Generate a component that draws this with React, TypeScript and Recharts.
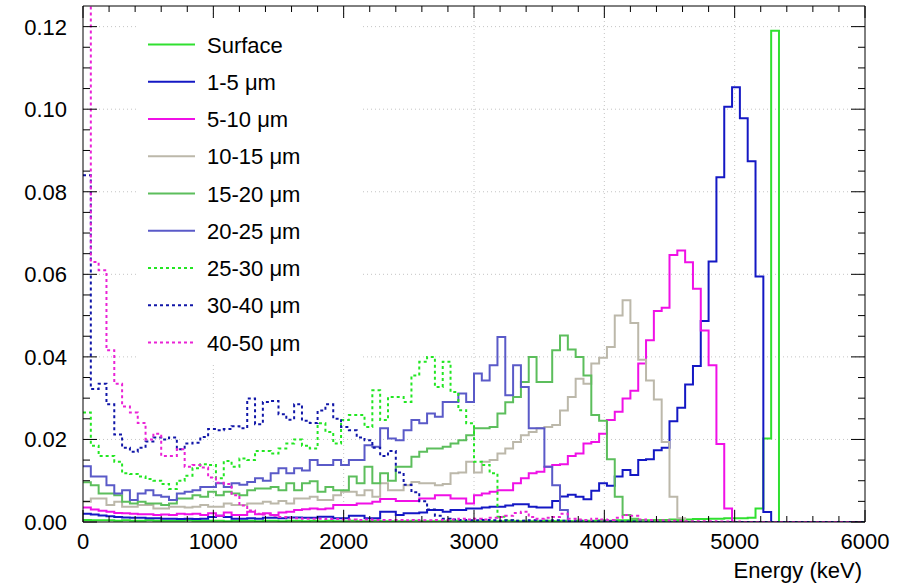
import React from 'react';
import { LineChart, Line, XAxis, YAxis, ReferenceLine, Legend, Label } from 'recharts';

const FONT = '"Liberation Sans", Arial, Helvetica, sans-serif';

// Histogram binning (keV)
const BIN_WIDTH = 60;
const N_BINS = 100;

// Axis ticks
const X_MAJOR = [0, 1000, 2000, 3000, 4000, 5000, 6000];
const Y_MAJOR = [0, 0.02, 0.04, 0.06, 0.08, 0.1, 0.12];
const X_MINOR_DIV = 5;
const Y_MINOR_DIV = 4;

// Series values per 60 keV bin (100 bins, 0-6000 keV)
const surface = [
  0.0005, 0.0004, 0.0004, 0.0004, 0.0003, 0.0004, 0.0003, 0.0003, 0.0004, 0.0003,
  0.0003, 0.0003, 0.0003, 0.0004, 0.0003, 0.0003, 0.0003, 0.0003, 0.0002, 0.0003,
  0.0003, 0.0003, 0.0002, 0.0003, 0.0003, 0.0002, 0.0003, 0.0003, 0.0002, 0.0003,
  0.0002, 0.0003, 0.0002, 0.0002, 0.0003, 0.0002, 0.0002, 0.0003, 0.0002, 0.0002,
  0.0002, 0.0002, 0.0003, 0.0002, 0.0002, 0.0002, 0.0002, 0.0003, 0.0002, 0.0002,
  0.0002, 0.0002, 0.0002, 0.0002, 0.0003, 0.0002, 0.0002, 0.0002, 0.0002, 0.0003,
  0.0002, 0.0003, 0.0002, 0.0003, 0.0003, 0.0003, 0.0004, 0.0003, 0.0004, 0.0004,
  0.0004, 0.0005, 0.0004, 0.0005, 0.0005, 0.0006, 0.0005, 0.0006, 0.0007, 0.0007,
  0.0008, 0.0008, 0.0009, 0.0009, 0.0009, 0.0010, 0.0033, 0.0202, 0.1190, 0,
  0, 0, 0, 0, 0, 0, 0, 0, 0, 0,
];
const um1to5 = [
  0.0020, 0.0018, 0.0016, 0.0014, 0.0012, 0.0011, 0.0010, 0.0010, 0.0009, 0.0009,
  0.0008, 0.0008, 0.0007, 0.0008, 0.0007, 0.0008, 0.0012, 0.0015, 0.0012, 0.0008,
  0.0008, 0.0009, 0.0008, 0.0010, 0.0010, 0.0009, 0.0011, 0.0011, 0.0010, 0.0010,
  0.0013, 0.0013, 0.0009, 0.0009, 0.0015, 0.0015, 0.0009, 0.0009, 0.0025, 0.0025,
  0.0017, 0.0021, 0.0021, 0.0023, 0.0029, 0.0029, 0.0025, 0.0029, 0.0029, 0.0033,
  0.0033, 0.0035, 0.0037, 0.0037, 0.0040, 0.0043, 0.0043, 0.0037, 0.0035, 0.0035,
  0.0051, 0.0062, 0.0066, 0.0061, 0.0055, 0.0076, 0.0094, 0.0088, 0.0110, 0.0126,
  0.0114, 0.0150, 0.0152, 0.0174, 0.0180, 0.0244, 0.0277, 0.0333, 0.0378, 0.0487,
  0.0631, 0.0835, 0.1006, 0.1053, 0.0978, 0.0874, 0.0595, 0.0024, 0, 0,
  0, 0, 0, 0, 0, 0, 0, 0, 0, 0,
];
const um5to10 = [
  0.0035, 0.0030, 0.0027, 0.0025, 0.0022, 0.0021, 0.0020, 0.0019, 0.0019, 0.0017,
  0.0018, 0.0017, 0.0020, 0.0019, 0.0020, 0.0017, 0.0021, 0.0015, 0.0023, 0.0017,
  0.0017, 0.0025, 0.0019, 0.0021, 0.0017, 0.0023, 0.0025, 0.0029, 0.0031, 0.0033,
  0.0031, 0.0033, 0.0041, 0.0041, 0.0041, 0.0045, 0.0045, 0.0049, 0.0056, 0.0056,
  0.0051, 0.0051, 0.0051, 0.0057, 0.0057, 0.0065, 0.0065, 0.0057, 0.0057, 0.0045,
  0.0065, 0.0069, 0.0073, 0.0077, 0.0077, 0.0094, 0.0106, 0.0118, 0.0122, 0.0134,
  0.0138, 0.0140, 0.0160, 0.0166, 0.0190, 0.0194, 0.0214, 0.0247, 0.0267, 0.0299,
  0.0318, 0.0384, 0.0440, 0.0511, 0.0519, 0.0647, 0.0658, 0.0629, 0.0565, 0.0464,
  0.0380, 0.0189, 0.0033, 0, 0, 0, 0, 0, 0, 0,
  0, 0, 0, 0, 0, 0, 0, 0, 0, 0,
];
const um10to15 = [
  0.0049, 0.0057, 0.0057, 0.0041, 0.0049, 0.0037, 0.0037, 0.0041, 0.0041, 0.0033,
  0.0033, 0.0037, 0.0037, 0.0035, 0.0037, 0.0041, 0.0037, 0.0037, 0.0045, 0.0041,
  0.0041, 0.0045, 0.0045, 0.0049, 0.0045, 0.0051, 0.0045, 0.0057, 0.0057, 0.0061,
  0.0053, 0.0053, 0.0065, 0.0073, 0.0073, 0.0065, 0.0077, 0.0061, 0.0094, 0.0077,
  0.0077, 0.0089, 0.0097, 0.0094, 0.0094, 0.0089, 0.0092, 0.0118, 0.0120, 0.0146,
  0.0120, 0.0146, 0.0150, 0.0166, 0.0178, 0.0194, 0.0210, 0.0218, 0.0227, 0.0230,
  0.0235, 0.0270, 0.0303, 0.0347, 0.0335, 0.0384, 0.0398, 0.0424, 0.0500, 0.0537,
  0.0482, 0.0393, 0.0343, 0.0297, 0.0194, 0.0061, 0.0009, 0, 0, 0,
  0, 0, 0, 0, 0, 0, 0, 0, 0, 0,
  0, 0, 0, 0, 0, 0, 0, 0, 0, 0,
];
const um15to20 = [
  0.0096, 0.0089, 0.0069, 0.0069, 0.0065, 0.0049, 0.0045, 0.0049, 0.0045, 0.0045,
  0.0041, 0.0045, 0.0057, 0.0057, 0.0065, 0.0061, 0.0073, 0.0065, 0.0073, 0.0069,
  0.0065, 0.0077, 0.0081, 0.0081, 0.0085, 0.0077, 0.0094, 0.0077, 0.0094, 0.0099,
  0.0073, 0.0085, 0.0077, 0.0077, 0.0110, 0.0094, 0.0134, 0.0094, 0.0118, 0.0100,
  0.0134, 0.0134, 0.0158, 0.0170, 0.0178, 0.0178, 0.0182, 0.0190, 0.0198, 0.0210,
  0.0227, 0.0227, 0.0230, 0.0263, 0.0290, 0.0303, 0.0339, 0.0400, 0.0339, 0.0339,
  0.0416, 0.0452, 0.0418, 0.0400, 0.0355, 0.0259, 0.0245, 0.0152, 0.0061, 0.0017,
  0.0008, 0.0004, 0, 0, 0, 0, 0, 0, 0, 0,
  0, 0, 0, 0, 0, 0, 0, 0, 0, 0,
  0, 0, 0, 0, 0, 0, 0, 0, 0, 0,
];
const um20to25 = [
  0.0135, 0.0110, 0.0110, 0.0089, 0.0069, 0.0077, 0.0053, 0.0069, 0.0077, 0.0065,
  0.0061, 0.0053, 0.0069, 0.0073, 0.0077, 0.0085, 0.0085, 0.0094, 0.0085, 0.0094,
  0.0090, 0.0097, 0.0106, 0.0100, 0.0118, 0.0130, 0.0118, 0.0130, 0.0125, 0.0150,
  0.0138, 0.0138, 0.0150, 0.0138, 0.0150, 0.0150, 0.0186, 0.0182, 0.0227, 0.0202,
  0.0198, 0.0222, 0.0247, 0.0239, 0.0263, 0.0255, 0.0291, 0.0291, 0.0311, 0.0291,
  0.0360, 0.0343, 0.0380, 0.0448, 0.0307, 0.0380, 0.0327, 0.0227, 0.0227, 0.0134,
  0.0089, 0.0029, 0, 0, 0, 0, 0, 0, 0, 0,
  0, 0, 0, 0, 0, 0, 0, 0, 0, 0,
  0, 0, 0, 0, 0, 0, 0, 0, 0, 0,
  0, 0, 0, 0, 0, 0, 0, 0, 0, 0,
];
const um25to30 = [
  0.0265, 0.0185, 0.0160, 0.0160, 0.0146, 0.0118, 0.0116, 0.0110, 0.0104, 0.0100,
  0.0092, 0.0080, 0.0100, 0.0112, 0.0130, 0.0140, 0.0138, 0.0106, 0.0148, 0.0134,
  0.0154, 0.0150, 0.0172, 0.0172, 0.0166, 0.0178, 0.0190, 0.0200, 0.0185, 0.0178,
  0.0239, 0.0218, 0.0190, 0.0247, 0.0259, 0.0259, 0.0230, 0.0319, 0.0247, 0.0303,
  0.0303, 0.0291, 0.0355, 0.0388, 0.0400, 0.0327, 0.0388, 0.0315, 0.0271, 0.0239,
  0.0146, 0.0138, 0.0118, 0.0013, 0.0004, 0.0003, 0.0003, 0.0002, 0.0002, 0.0002,
  0.0002, 0.0002, 0.0001, 0.0001, 0.0001, 0, 0, 0, 0, 0,
  0, 0, 0, 0, 0, 0, 0, 0, 0, 0,
  0, 0, 0, 0, 0, 0, 0, 0, 0, 0,
  0, 0, 0, 0, 0, 0, 0, 0, 0, 0,
];
const um30to40 = [
  0.0840, 0.0322, 0.0335, 0.0285, 0.0212, 0.0180, 0.0170, 0.0180, 0.0195, 0.0205,
  0.0200, 0.0205, 0.0176, 0.0190, 0.0192, 0.0206, 0.0225, 0.0222, 0.0225, 0.0232,
  0.0227, 0.0299, 0.0237, 0.0291, 0.0293, 0.0261, 0.0248, 0.0285, 0.0245, 0.0240,
  0.0270, 0.0285, 0.0250, 0.0230, 0.0222, 0.0205, 0.0198, 0.0180, 0.0160, 0.0172,
  0.0120, 0.0090, 0.0072, 0.0050, 0.0030, 0.0015, 0.0008, 0.0006, 0.0005, 0.0004,
  0.0004, 0.0005, 0.0004, 0.0003, 0.0004, 0.0003, 0.0003, 0.0004, 0.0003, 0.0003,
  0.0004, 0.0003, 0.0002, 0.0003, 0.0002, 0.0002, 0.0002, 0.0002, 0.0001, 0.0001,
  0.0001, 0.0001, 0.0001, 0, 0, 0, 0, 0, 0, 0,
  0, 0, 0, 0, 0, 0, 0, 0, 0, 0,
  0, 0, 0, 0, 0, 0, 0, 0, 0, 0,
];
const um40to50 = [
  0.2000, 0.0630, 0.0610, 0.0416, 0.0335, 0.0280, 0.0265, 0.0240, 0.0200, 0.0214,
  0.0160, 0.0160, 0.0176, 0.0134, 0.0138, 0.0132, 0.0108, 0.0095, 0.0092, 0.0065,
  0.0040, 0.0028, 0.0020, 0.0018, 0.0015, 0.0012, 0.0010, 0.0009, 0.0008, 0.0008,
  0.0008, 0.0007, 0.0007, 0.0006, 0.0006, 0.0005, 0.0006, 0.0005, 0.0005, 0.0005,
  0.0005, 0.0004, 0.0005, 0.0004, 0.0004, 0.0005, 0.0004, 0.0006, 0.0008, 0.0006,
  0.0008, 0.0006, 0.0010, 0.0012, 0.0015, 0.0022, 0.0025, 0.0012, 0.0008, 0.0010,
  0.0012, 0.0020, 0.0008, 0.0006, 0.0005, 0.0008, 0.0006, 0.0005, 0.0010, 0.0017,
  0.0015, 0.0006, 0.0005, 0.0004, 0.0004, 0.0003, 0.0003, 0.0002, 0.0002, 0.0002,
  0.0002, 0.0001, 0.0001, 0.0001, 0, 0, 0, 0, 0, 0,
  0, 0, 0, 0, 0, 0, 0, 0, 0, 0,
];

const SERIES = [
  { key: 'surface', name: 'Surface', values: surface, color: '#30e030', dash: undefined as string | undefined },
  { key: 'um1to5', name: '1-5 μm', values: um1to5, color: '#1418c4', dash: undefined },
  { key: 'um5to10', name: '5-10 μm', values: um5to10, color: '#f010e6', dash: undefined },
  { key: 'um10to15', name: '10-15 μm', values: um10to15, color: '#bcb8aa', dash: undefined },
  { key: 'um15to20', name: '15-20 μm', values: um15to20, color: '#5cbe5c', dash: undefined },
  { key: 'um20to25', name: '20-25 μm', values: um20to25, color: '#5a5ac8', dash: undefined },
  { key: 'um25to30', name: '25-30 μm', values: um25to30, color: '#22e622', dash: '3 3' },
  { key: 'um30to40', name: '30-40 μm', values: um30to40, color: '#1016a8', dash: '3 3' },
  { key: 'um40to50', name: '40-50 μm', values: um40to50, color: '#ea22d6', dash: '3 3' },
];

// Rows at bin edges; final edge repeats the last bin so the step closes at 6000 keV
const rows = Array.from({ length: N_BINS + 1 }, (_, i) => {
  const row: Record<string, number> = { e: i * BIN_WIDTH };
  SERIES.forEach((s) => {
    row[s.key] = s.values[Math.min(i, N_BINS - 1)];
  });
  return row;
});

const subdivide = (major: number[], div: number) => {
  const out: number[] = [];
  for (let i = 0; i < major.length - 1; i++) {
    const step = (major[i + 1] - major[i]) / div;
    for (let j = 0; j < div; j++) out.push(+(major[i] + j * step).toFixed(6));
  }
  out.push(major[major.length - 1]);
  return out;
};
const X_TICKS = subdivide(X_MAJOR, X_MINOR_DIV);
const Y_TICKS = subdivide(Y_MAJOR, Y_MINOR_DIV);
const isXMajor = (v: number) => X_MAJOR.some((m) => Math.abs(m - v) < 1e-6);
const isYMajor = (v: number) => Y_MAJOR.some((m) => Math.abs(m - v) < 1e-9);

const LeftTick = (props: any) => {
  const { x, y, payload } = props;
  const major = isYMajor(payload.value);
  const len = major ? 14 : 7;
  return (
    <g>
      <line x1={x} y1={y} x2={x + len} y2={y} stroke="#000" strokeWidth={1} />
      {major && (
        <text x={x - 16} y={y + 8} textAnchor="end" fontSize={22} fontFamily={FONT} fill="#000">
          {payload.value.toFixed(2)}
        </text>
      )}
    </g>
  );
};
const RightTick = (props: any) => {
  const { x, y, payload } = props;
  const len = isYMajor(payload.value) ? 14 : 7;
  return <line x1={x} y1={y} x2={x - len} y2={y} stroke="#000" strokeWidth={1} />;
};
const BottomTick = (props: any) => {
  const { x, y, payload } = props;
  const major = isXMajor(payload.value);
  const len = major ? 12 : 6;
  return (
    <g>
      <line x1={x} y1={y} x2={x} y2={y - len} stroke="#000" strokeWidth={1} />
      {major && (
        <text x={x} y={y + 27} textAnchor="middle" fontSize={22} fontFamily={FONT} fill="#000">
          {payload.value}
        </text>
      )}
    </g>
  );
};
const TopTick = (props: any) => {
  const { x, y, payload } = props;
  const len = isXMajor(payload.value) ? 12 : 6;
  return <line x1={x} y1={y} x2={x} y2={y + len} stroke="#000" strokeWidth={1} />;
};

const LegendBox = () => (
  <svg width={226} height={344} style={{ display: 'block' }}>
    <rect x={0} y={0} width={226} height={344} fill="#ffffff" />
    {SERIES.map((s, i) => {
      const cy = 26.5 + i * 37.25;
      return (
        <g key={s.key}>
          <line x1={11} x2={58} y1={cy} y2={cy} stroke={s.color} strokeWidth={2} strokeDasharray={s.dash} />
          <text x={70} y={cy + 8} fontSize={22} fontFamily={FONT} fill="#000">
            {s.name}
          </text>
        </g>
      );
    })}
  </svg>
);

const XTitle = (props: any) => {
  const vb = props.viewBox || { x: 83, y: 522, width: 782, height: 64 };
  return (
    <text x={vb.x + vb.width - 3} y={vb.y + 56} textAnchor="end" fontSize={22} fontFamily={FONT} fill="#000">
      Energy (keV)
    </text>
  );
};

export default function App() {
  return (
    <div style={{ position: 'absolute', left: 0, top: 0, width: 897, height: 586, background: '#fff' }}>
      <LineChart width={897} height={586} data={rows} margin={{ top: 0, right: 0, bottom: 0, left: 0 }}>
        <XAxis
          dataKey="e"
          type="number"
          domain={[0, 6000]}
          allowDataOverflow
          ticks={X_TICKS}
          interval={0}
          tickSize={0}
          tickMargin={0}
          tickLine={false}
          tick={BottomTick}
          axisLine={{ stroke: '#000', strokeWidth: 1 }}
          height={64}
        >
          <Label content={XTitle} />
        </XAxis>
        <XAxis
          xAxisId="top"
          orientation="top"
          dataKey="e"
          type="number"
          domain={[0, 6000]}
          allowDataOverflow
          ticks={X_TICKS}
          interval={0}
          tickSize={0}
          tickMargin={0}
          tickLine={false}
          tick={TopTick}
          axisLine={{ stroke: '#000', strokeWidth: 1 }}
          height={6}
        />
        <YAxis
          type="number"
          domain={[0, 0.125]}
          allowDataOverflow
          ticks={Y_TICKS}
          interval={0}
          tickSize={0}
          tickMargin={0}
          tickLine={false}
          tick={LeftTick}
          axisLine={{ stroke: '#000', strokeWidth: 1 }}
          width={83}
        />
        <YAxis
          yAxisId="right"
          orientation="right"
          type="number"
          domain={[0, 0.125]}
          allowDataOverflow
          ticks={Y_TICKS}
          interval={0}
          tickSize={0}
          tickMargin={0}
          tickLine={false}
          tick={RightTick}
          axisLine={{ stroke: '#000', strokeWidth: 1 }}
          width={32}
        />
        {X_MAJOR.slice(1, -1).map((v) => (
          <ReferenceLine key={'gx' + v} x={v} stroke="#c4c4c4" strokeDasharray="1 3" strokeWidth={1} />
        ))}
        {Y_MAJOR.slice(1).map((v) => (
          <ReferenceLine key={'gy' + v} y={v} stroke="#c4c4c4" strokeDasharray="1 3" strokeWidth={1} />
        ))}
        {SERIES.map((s) => (
          <Line
            key={s.key}
            dataKey={s.key}
            name={s.name}
            type="stepAfter"
            stroke={s.color}
            strokeWidth={2}
            strokeDasharray={s.dash}
            dot={false}
            activeDot={false}
            isAnimationActive={false}
          />
        ))}
        <Legend
          layout="vertical"
          align="center"
          verticalAlign="middle"
          content={LegendBox}
          wrapperStyle={{ left: 137, top: 18, width: 226, height: 344, margin: 0, padding: 0, lineHeight: 0 }}
        />
      </LineChart>
    </div>
  );
}
